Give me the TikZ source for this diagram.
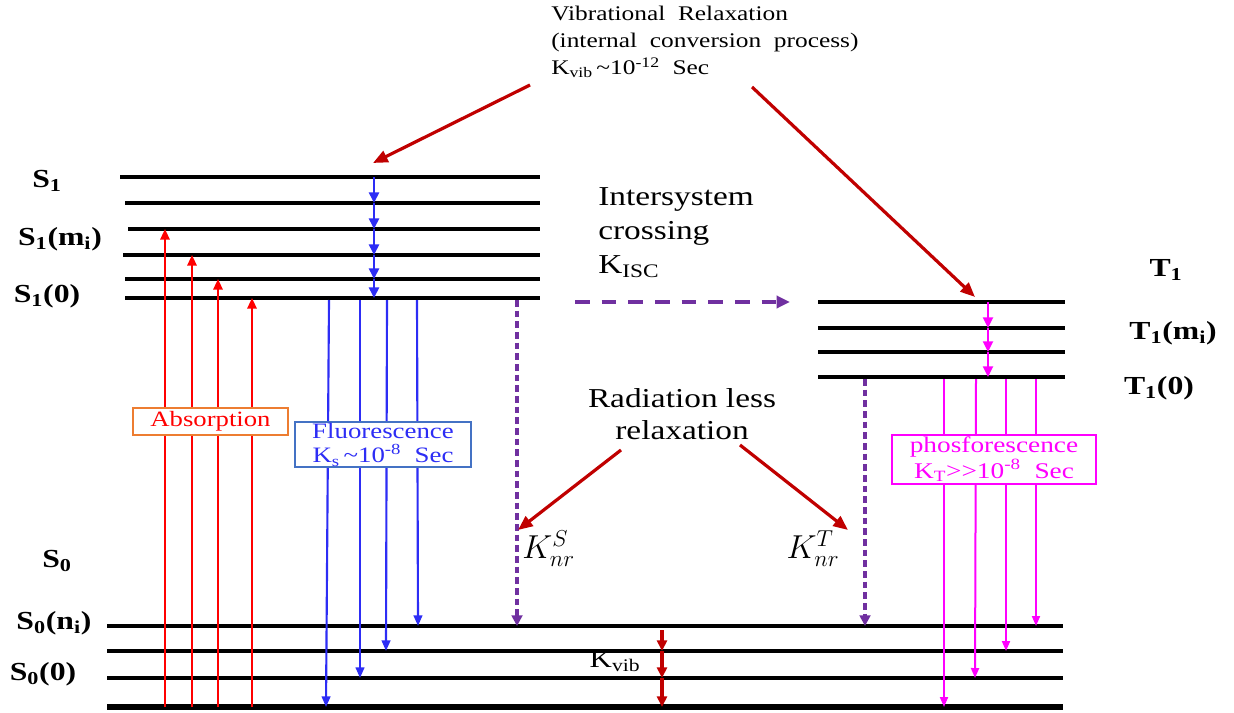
\documentclass[tikz,border=0pt]{standalone}
\usepackage{fontspec}
\setmainfont{Liberation Serif}[FakeStretch=1.22]
\usetikzlibrary{arrows.meta}
\definecolor{absred}{RGB}{255,0,0}
\definecolor{fblue}{RGB}{45,45,245}
\definecolor{dred}{RGB}{192,0,0}
\definecolor{purp}{RGB}{112,48,160}
\definecolor{mag}{RGB}{255,0,255}
\definecolor{orangeb}{RGB}{237,125,49}
\definecolor{boxblue}{RGB}{68,114,196}
\tikzset{
  level/.style={line width=2.4pt, black},
  baseline0/.style={line width=5pt, black},
  absarr/.style={absred, line width=1.6pt, -{Triangle[length=8pt,width=7pt]}},
  fluarr/.style={fblue, line width=1.6pt, -{Triangle[length=8pt,width=6.5pt]}},
  casc/.style={line width=1.9pt, -{Triangle[length=8pt,width=7.5pt]}},
  phoarr/.style={mag, line width=1.5pt, -{Triangle[length=7.5pt,width=6pt]}},
  bigred/.style={dred, line width=2.4pt, -{Triangle[length=11pt,width=9pt]}},
  purpdash/.style={purp, line width=2.8pt, dash pattern=on 5pt off 3pt, -{Triangle[length=8pt,width=8pt]}},
  lbl/.style={font=\fontsize{19.5}{22}\selectfont\bfseries, inner sep=0pt},
  boxlbl/.style={draw, line width=1.1pt, fill=white, inner sep=0pt, align=center},
}
\begin{document}
\begin{tikzpicture}[x=0.75pt,y=-0.75pt]
\useasboundingbox (0,0) rectangle (1234,713);

% ---- S1 levels
\foreach \y/\xl [count=\i] in {177/120,203/125,229/128,255/123,279/125,298/125}
  \draw[level] (\xl,\y) coordinate (s1l\i) -- (540,\y) coordinate (s1r\i);
% ---- T1 levels
\foreach \y [count=\i] in {302,328,352,377}
  \draw[level] (818,\y) coordinate (t1l\i) -- (1065,\y) coordinate (t1r\i);
% ---- S0 levels
\foreach \y [count=\i] in {626,651,678}
  \draw[level] (107,\y) coordinate (s0l\i) -- (1063,\y) coordinate (s0r\i);
\draw[baseline0] (107,707) coordinate (s0l4) -- (1063,707) coordinate (s0r4);

% ---- labels
\node[lbl] (lS1) at (47,181) {S\textsubscript{1}};
\node[lbl] (lS1m) at (60,239) {S\textsubscript{1}(m\textsubscript{i})};
\node[lbl] (lS10) at (47,296) {S\textsubscript{1}(0)};
\node[lbl] (lS0) at (57,561) {S\textsubscript{0}};
\node[lbl] (lS0n) at (54,623) {S\textsubscript{0}(n\textsubscript{i})};
\node[lbl] (lS00) at (43,674) {S\textsubscript{0}(0)};
\node[lbl] (lT1) at (1166,270) {T\textsubscript{1}};
\node[lbl] (lT1m) at (1173,333) {T\textsubscript{1}(m\textsubscript{i})};
\node[lbl] (lT10) at (1159,388) {T\textsubscript{1}(0)};

% ---- absorption arrows
\coordinate (a1b) at (165,707); \coordinate (a1t) at (165,229);
\coordinate (a2b) at (192,707); \coordinate (a2t) at (192,255);
\coordinate (a3b) at (218,707); \coordinate (a3t) at (218,279);
\coordinate (a4b) at (252,707); \coordinate (a4t) at (252,298);
\foreach \i in {1,...,4} \draw[absarr] (a\i b) -- (a\i t);

% ---- S1 vibrational cascade
\foreach \y [count=\i] in {177,203,229,255,279,298} \coordinate (bc\i) at (374,\y);
\foreach \i/\j in {1/2,2/3,3/4,4/5,5/6} \draw[casc, fblue] (bc\i) -- (bc\j);

% ---- fluorescence arrows
\coordinate (f1t) at (329,300); \coordinate (f1b) at (326,707);
\coordinate (f2t) at (360,300); \coordinate (f2b) at (360,678);
\coordinate (f3t) at (387,300); \coordinate (f3b) at (386,651);
\coordinate (f4t) at (417,300); \coordinate (f4b) at (418,626);
\foreach \i in {1,...,4} \draw[fluarr] (f\i t) -- (f\i b);

% ---- T1 cascade
\foreach \y [count=\i] in {302,328,352,377} \coordinate (mc\i) at (988,\y);
\foreach \i/\j in {1/2,2/3,3/4} \draw[casc, mag, line width=1.6pt] (mc\i) -- (mc\j);

% ---- phosphorescence arrows
\coordinate (p1t) at (944,379); \coordinate (p1b) at (944,707);
\coordinate (p2t) at (976,379); \coordinate (p2b) at (975,678);
\coordinate (p3t) at (1006,379); \coordinate (p3b) at (1006,651);
\coordinate (p4t) at (1036,379); \coordinate (p4b) at (1036,626);
\foreach \i in {1,...,4} \draw[phoarr] (p\i t) -- (p\i b);

% ---- radiationless (purple dashed)
\coordinate (ks1) at (517,300); \coordinate (ks2) at (517,626);
\coordinate (kt1) at (865,379); \coordinate (kt2) at (865,626);
\draw[purpdash] (ks1) -- (ks2);
\draw[purpdash] (kt1) -- (kt2);
\coordinate (isc1) at (575,302); \coordinate (isc2) at (790,302);
\draw[purp, line width=2.6pt, dash pattern=on 11pt off 9pt, -{Triangle[length=10pt,width=9pt]}] (isc1) -- (isc2);

% ---- S0 vibrational cascade
\foreach \y [count=\i] in {630,651,678,707} \coordinate (kv\i) at (662,\y);
\foreach \i/\j in {1/2,2/3,3/4} \draw[casc, dred, line width=2.4pt] (kv\i) -- (kv\j);
\node[font=\fontsize{19}{22}\selectfont, inner sep=0pt] (kvib) at (615,661) {K\textsubscript{vib}};

% ---- texts
\node[anchor=north west, align=left, inner sep=0pt, font=\fontsize{15.6}{20}\selectfont] (vr) at (551,6)
 {Vibrational\ \ Relaxation\\(internal\ \ conversion\ \ process)\\K\textsubscript{vib}\,\textasciitilde10\textsuperscript{-12}\ \ Sec};
\node[anchor=north west, align=left, inner sep=0pt, font=\fontsize{20.5}{25.5}\selectfont] (isc) at (598,187)
 {Intersystem\\crossing\\K\textsubscript{ISC}};
\node[align=center, inner sep=0pt, font=\fontsize{20.5}{24}\selectfont] (rl) at (682,414)
 {Radiation less\\relaxation};
\node[anchor=west, inner sep=0pt, font=\fontsize{23}{25}\selectfont] (knrs) at (522,549) {$K_{nr}^{S}$};
\node[inner sep=0pt, font=\fontsize{23}{25}\selectfont] (knrt) at (813,549) {$K_{nr}^{T}$};

% ---- pointer arrows
\coordinate (vrA) at (530,85); \coordinate (vrAt) at (373,163);
\coordinate (vrB) at (752,87); \coordinate (vrBt) at (975,297);
\draw[bigred] (vrA) -- (vrAt);
\draw[bigred] (vrB) -- (vrBt);
\coordinate (rlA) at (621,450); \coordinate (rlAt) at (518,530);
\coordinate (rlB) at (740,445); \coordinate (rlBt) at (848,530);
\draw[bigred] (rlA) -- (rlAt);
\draw[bigred] (rlB) -- (rlBt);

% ---- boxes
\node[boxlbl, draw=orangeb, text=absred, font=\fontsize{16.4}{18}\selectfont, minimum width=155*0.75pt, minimum height=27*0.75pt] (absb) at (210.5,421.5) {Absorption};
\node[boxlbl, draw=boxblue, text=fblue, font=\fontsize{16.5}{18.5}\selectfont, minimum width=176*0.75pt, minimum height=45*0.75pt] (flub) at (383,444.5)
 {Fluorescence\\K\textsubscript{s}\,\textasciitilde10\textsuperscript{-8}\ \ Sec};
\node[boxlbl, draw=mag, text=mag, font=\fontsize{16.8}{19}\selectfont, minimum width=204*0.75pt, minimum height=49*0.75pt] (phob) at (994,459.5)
 {phosforescence\\K\textsubscript{T}{>}{>}10\textsuperscript{-8}\ \ Sec};
\end{tikzpicture}
\end{document}
